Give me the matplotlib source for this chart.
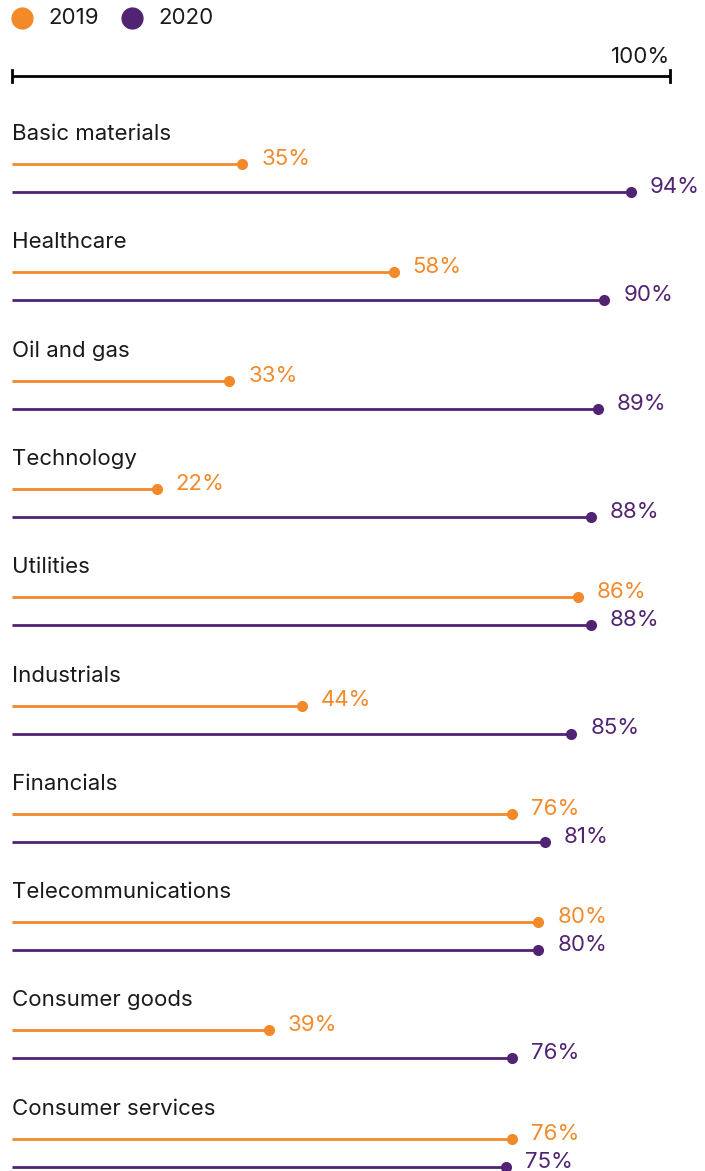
import matplotlib
matplotlib.use("Agg")
import matplotlib.pyplot as plt

# data
sectors = ["Basic materials", "Healthcare", "Oil and gas", "Technology", "Utilities",
           "Industrials", "Financials", "Telecommunications", "Consumer goods",
           "Consumer services"]
vals_2019 = [35, 58, 33, 22, 86, 44, 76, 80, 39, 76]
vals_2020 = [94, 90, 89, 88, 88, 85, 81, 80, 76, 75]
years = ["2019", "2020"]

ORANGE = "#F28A2A"
PURPLE = "#512373"
FONT = ["Inter", "DejaVu Sans"]
FS = 16

W, H = 705, 1171
fig = plt.figure(figsize=(W / 100, H / 100), dpi=100)
ax = fig.add_axes([0, 0, 1, 1])

# x: percent, 0 -> 12px, 100 -> 670px ; y: pixels from top
px_per = (670 - 12) / 100
ax.set_xlim(-12 / px_per, (W - 12) / px_per)
ax.set_ylim(H, 0)
ax.axis("off")

def dx(px):
    return px / px_per

# legend
leg_x = [0, 110]
for i, (yr, col) in enumerate(zip(years, [ORANGE, PURPLE])):
    x0 = dx(leg_x[i] + 10)
    ax.plot(x0, 18, "o", ms=16, color=col, mec="none")
    ax.text(x0 + dx(26), 18, yr, fontsize=FS, family=FONT, va="center", ha="left",
            color="#1a1a1a")

# scale bar
ax.plot([0, 100], [76, 76], color="black", lw=2, solid_capstyle="butt")
for xv in [0, 100]:
    ax.plot([xv, xv], [70, 82], color="black", lw=2)
ax.text(100, 67, "100%", fontsize=FS, family=FONT, ha="right", va="bottom",
        color="#1a1a1a")

row0, step = 134, 108.3
for i, name in enumerate(sectors):
    y = row0 + i * step
    ax.text(0, y, name, fontsize=FS, family=FONT, ha="left", va="center",
            color="#1a1a1a")
    for v, col, off in [(vals_2019[i], ORANGE, 30), (vals_2020[i], PURPLE, 58)]:
        ax.plot([0, v], [y + off, y + off], color=col, lw=2, solid_capstyle="butt")
        ax.plot(v, y + off, "o", ms=8, color=col, mec="none")
        ax.text(v + dx(19), y + off - 5, f"{v}%", fontsize=FS, family=FONT,
                ha="left", va="center", color=col)

fig.savefig("out.png", dpi=100)
